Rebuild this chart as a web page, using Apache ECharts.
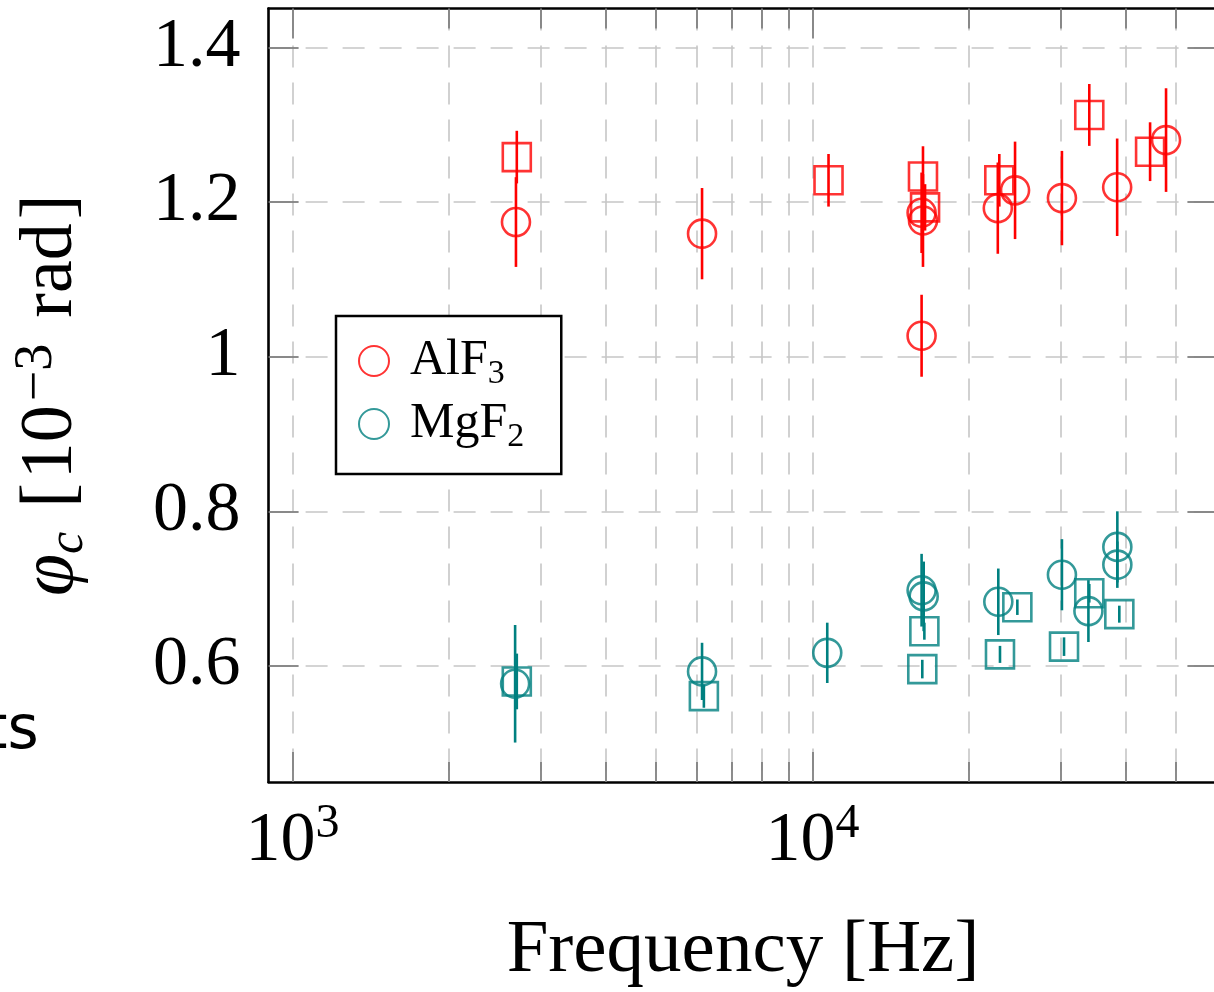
<!DOCTYPE html>
<html><head><meta charset="utf-8">
<script src="https://cdn.jsdelivr.net/npm/echarts@6/dist/echarts.min.js"></script>
<style>html,body{margin:0;padding:0;background:#fff}#c{width:1214px;height:992px}</style>
</head><body><div id="c"></div>
<script>
// ---- data ----
const alf3CircFreq = [2690, 6130, 16200, 16300, 16200, 22700, 24500, 30150, 38500, 47800];
const alf3CircPhi  = [1.174, 1.159, 1.186, 1.176, 1.027, 1.192, 1.215, 1.205, 1.219, 1.280];
const alf3CircErr  = [0.058, 0.059, 0.052, 0.060, 0.053, 0.059, 0.063, 0.061, 0.063, 0.067];

const alf3SqFreq = [2700, 10730, 16300, 16450, 22850, 34030, 44540];
const alf3SqPhi  = [1.258, 1.228, 1.233, 1.193, 1.228, 1.3125, 1.265];
const alf3SqErr  = [0.034, 0.034, 0.039, 0.030, 0.034, 0.040, 0.038];

const mgf2CircFreq = [2680, 6130, 10670, 16200, 16350, 22750, 30150, 33900, 38530, 38530];
const mgf2CircPhi  = [0.577, 0.593, 0.617, 0.698, 0.690, 0.683, 0.718, 0.671, 0.754, 0.731];
const mgf2CircErr  = [0.076, 0.037, 0.039, 0.047, 0.045, 0.043, 0.046, 0.040, 0.046, 0.030];

const mgf2SqFreq = [2700, 6180, 16400, 16250, 22920, 24750, 30430, 34030, 38870];
const mgf2SqPhi  = [0.580, 0.561, 0.645, 0.596, 0.615, 0.676, 0.625, 0.694, 0.667];
const mgf2SqErr  = [0.036, 0.015, 0.011, 0.012, 0.011, 0.010, 0.012, 0.012, 0.011];

const xMajorTicks = [1000, 10000];
const xMinorTicks = [2000, 3000, 4000, 5000, 6000, 7000, 8000, 9000, 20000, 30000, 40000, 50000];
const yTicks = [0.6, 0.8, 1, 1.2, 1.4];
const xRange = [900, 60000];
const yRange = [0.45, 1.45];

// ---- styles ----
const RED = '#ff0000', TEAL = '#008080';
const SERIF = '"Liberation Serif", "DejaVu Serif", serif';
const GRID_LINE = { show: true, lineStyle: { color: '#c6c6c6', width: 1.6, type: [22, 15] } };
const TICK_STYLE = { color: '#808080', width: 1.8 };

const zip = (a, b, c) => a.map((v, i) => c ? [v, b[i], c[i]] : [v, b[i]]);

function errBar(color) {
  return function (params, api) {
    const x = api.value(0), y = api.value(1), e = api.value(2);
    const p1 = api.coord([x, y - e]), p2 = api.coord([x, y + e]);
    return { type: 'line', shape: { x1: p1[0], y1: p1[1], x2: p2[0], y2: p2[1] },
             style: { stroke: color, lineWidth: 2.6 } };
  };
}

function xAxisDef(pos, ticks, len, withLabel, withLine, withSplit) {
  return {
    type: 'log', position: pos, min: xRange[0], max: xRange[1], gridIndex: 0,
    axisLine: { show: withLine, onZero: false, lineStyle: { color: '#000', width: 2.6 } },
    axisTick: { show: true, inside: true, length: len, customValues: ticks, lineStyle: TICK_STYLE },
    axisLabel: withLabel ? {
      show: true, customValues: ticks, margin: 18,
      formatter: v => '{b|10}{s|' + Math.round(Math.log10(v)) + '}',
      rich: {
        b: { fontFamily: SERIF, fontSize: 70, lineHeight: 84, color: '#000' },
        s: { fontFamily: SERIF, fontSize: 48, lineHeight: 48, verticalAlign: 'top', color: '#000' }
      }
    } : { show: false },
    splitLine: withSplit ? GRID_LINE : { show: false },
    minorTick: { show: false }, minorSplitLine: { show: false }
  };
}

const chart = echarts.init(document.getElementById('c'), null, { renderer: 'canvas' });
const option = {
  backgroundColor: '#fff',
  animation: false,
  grid: { left: 268.6, top: 8.6, width: 948.8, height: 773.4, containLabel: false, outerBoundsMode: 'none' },
  xAxis: [
    Object.assign(xAxisDef('bottom', xMajorTicks, 30, true, true, true), {
      name: 'Frequency [Hz]', nameLocation: 'middle', nameGap: 132,
      nameTextStyle: { fontFamily: SERIF, fontSize: 75, color: '#000' }
    }),
    xAxisDef('bottom', xMinorTicks, 20, false, false, true),
    xAxisDef('top', xMajorTicks, 30, false, true, false),
    xAxisDef('top', xMinorTicks, 20, false, false, false)
  ],
  yAxis: [
    {
      type: 'value', position: 'left', min: yRange[0], max: yRange[1],
      axisLine: { show: true, onZero: false, lineStyle: { color: '#000', width: 2.6 } },
      axisTick: { show: true, inside: true, length: 30, customValues: yTicks, lineStyle: TICK_STYLE },
      axisLabel: { show: true, customValues: yTicks, margin: 28, fontFamily: SERIF, fontSize: 70, color: '#000' },
      splitLine: GRID_LINE,
      name: '{p|φ}{c|c}{bl|[}{n|10}{e|−3}{n|rad}{br|]}', nameLocation: 'middle', nameGap: 175, nameRotate: 90,
      nameTextStyle: {
        color: '#000',
        rich: {
          p: { fontFamily: SERIF, fontStyle: 'italic', fontSize: 76, lineHeight: 84 },
          c: { fontFamily: SERIF, fontStyle: 'italic', fontSize: 50, lineHeight: 50, verticalAlign: 'bottom', padding: [0, 24, 0, 0] },
          bl: { fontFamily: SERIF, fontSize: 74, lineHeight: 84, padding: [0, 4, 0, 0] },
          n: { fontFamily: SERIF, fontSize: 74, lineHeight: 84 },
          br: { fontFamily: SERIF, fontSize: 74, lineHeight: 84, padding: [0, 0, 0, 4] },
          e: { fontFamily: SERIF, fontSize: 54, lineHeight: 50, verticalAlign: 'top', padding: [0, 26, 0, 4] }
        }
      }
    },
    {
      type: 'value', position: 'right', min: yRange[0], max: yRange[1],
      axisLine: { show: true, onZero: false, lineStyle: { color: '#000', width: 2.6 } },
      axisTick: { show: true, inside: true, length: 30, customValues: yTicks, lineStyle: TICK_STYLE },
      axisLabel: { show: false }, splitLine: { show: false }
    }
  ],
  legend: {
    data: ['AlF3', 'MgF2'], orient: 'vertical', left: 336, top: 316,
    itemWidth: 30, itemHeight: 30, itemGap: 8,
    padding: [20, 37, 20, 22],
    borderColor: '#000', borderWidth: 2.5, backgroundColor: '#fff',
    selectedMode: false,
    formatter: n => n === 'AlF3' ? '{m|AlF}{s|3}' : '{m|MgF}{s|2}',
    textStyle: {
      color: '#000',
      rich: {
        m: { fontFamily: SERIF, fontSize: 50, lineHeight: 60, padding: [0, 0, 0, 16] },
        s: { fontFamily: SERIF, fontSize: 34, lineHeight: 34, verticalAlign: 'bottom' }
      }
    }
  },
  graphic: [{
    type: 'text', x: -16, y: 702, z: 100,
    style: { text: 'ts', font: '60px "DejaVu Sans"', fill: '#000', verticalAlign: 'top' }
  }],
  series: [
    { name: 'AlF3', type: 'scatter', symbol: 'circle', symbolSize: 28, data: zip(alf3CircFreq, alf3CircPhi),
      itemStyle: { color: 'rgba(0,0,0,0)', borderColor: RED, borderWidth: 2.6 }, z: 5 },
    { name: 'AlF3 sq', type: 'scatter', symbol: 'rect', symbolSize: 28, data: zip(alf3SqFreq, alf3SqPhi),
      itemStyle: { color: 'rgba(0,0,0,0)', borderColor: RED, borderWidth: 2.6 }, z: 5 },
    { name: 'MgF2', type: 'scatter', symbol: 'circle', symbolSize: 28, data: zip(mgf2CircFreq, mgf2CircPhi),
      itemStyle: { color: 'rgba(0,0,0,0)', borderColor: TEAL, borderWidth: 2.6 }, z: 5 },
    { name: 'MgF2 sq', type: 'scatter', symbol: 'rect', symbolSize: 28, data: zip(mgf2SqFreq, mgf2SqPhi),
      itemStyle: { color: 'rgba(0,0,0,0)', borderColor: TEAL, borderWidth: 2.6 }, z: 5 },
    { name: 'AlF3 err', type: 'custom', renderItem: errBar(RED), data: zip(alf3CircFreq, alf3CircPhi, alf3CircErr).concat(zip(alf3SqFreq, alf3SqPhi, alf3SqErr)), encode: { x: 0, y: 1 }, z: 4 },
    { name: 'MgF2 err', type: 'custom', renderItem: errBar(TEAL), data: zip(mgf2CircFreq, mgf2CircPhi, mgf2CircErr).concat(zip(mgf2SqFreq, mgf2SqPhi, mgf2SqErr)), encode: { x: 0, y: 1 }, z: 4 }
  ]
};
chart.setOption(option);
</script></body></html>
